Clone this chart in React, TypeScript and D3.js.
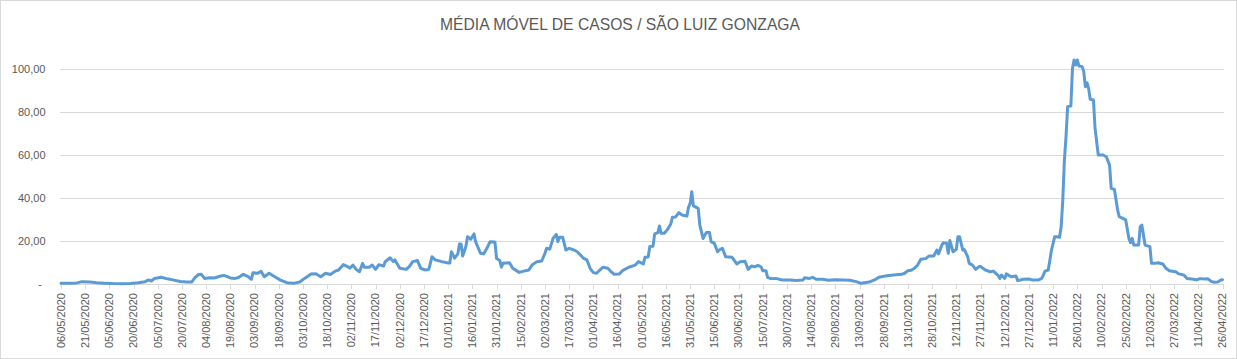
import React from "react";
import * as d3 from "d3";

const TITLE = "MÉDIA MÓVEL DE CASOS / SÃO LUIZ GONZAGA";
const START_DATE = new Date(2020, 4, 6);
const TOTAL_DAYS = 720;
const TICK_STEP_DAYS = 15;
const Y_TICKS = [0, 20, 40, 60, 80, 100];

// days since 06/05/2020
const dayOffsets = [
  0, 5, 10, 13, 18, 22, 27, 32, 38, 43, 48, 52, 54, 56, 58, 62, 66, 70, 74, 78,
  81, 83, 85, 87, 89, 92, 95, 99, 101, 105, 108, 110, 113, 116, 118, 119, 122, 124, 126, 129,
  132, 136, 140, 144, 148, 151, 155, 158, 161, 164, 167, 170, 172, 175, 178, 179, 181, 183, 185, 187,
  188, 191, 193, 195, 197, 200, 201, 204, 206, 207, 210, 214, 216, 218, 221, 223, 226, 228, 230, 232,
  236, 240, 241, 242, 244, 246, 247, 248, 249, 251, 252, 254, 256, 257, 260, 262, 264, 266, 269, 270,
  272, 273, 274, 278, 280, 284, 288, 290, 292, 295, 298, 300, 301, 303, 305, 307, 308, 309, 311, 313,
  315, 318, 320, 322, 324, 326, 328, 330, 332, 334, 336, 339, 341, 343, 346, 348, 352, 356, 358, 361,
  362, 364, 365, 367, 368, 370, 371, 372, 374, 376, 378, 379, 381, 383, 385, 388, 389, 390, 391, 392,
  395, 396, 398, 400, 402, 403, 405, 407, 408, 410, 412, 416, 419, 421, 424, 426, 428, 430, 432, 434,
  435, 437, 438, 440, 443, 447, 452, 456, 460, 461, 464, 466, 468, 472, 476, 480, 485, 489, 493, 496,
  501, 505, 507, 511, 516, 521, 523, 525, 527, 529, 531, 533, 536, 538, 541, 543, 544, 546, 547, 549,
  550, 551, 553, 555, 556, 557, 559, 560, 562, 563, 565, 567, 569, 570, 573, 576, 578, 581, 582, 583,
  585, 586, 589, 592, 593, 595, 596, 600, 602, 606, 608, 610, 612, 614, 616, 617, 619, 620, 621, 622,
  623, 624, 626, 627, 628, 629, 630, 631, 633, 634, 635, 636, 637, 638, 640, 641, 643, 646, 648, 650,
  651, 653, 655, 656, 660, 662, 663, 664, 665, 668, 669, 670, 671, 672, 675, 676, 678, 680, 683, 685,
  687, 691, 693, 696, 698, 702, 704, 706, 709, 711, 713, 715, 717, 719, 720,
];

const movingAverage = [
  0.4, 0.4, 0.5, 1.1, 0.9, 0.6, 0.4, 0.2, 0.1, 0.2, 0.6, 1.0, 1.9, 1.4, 2.6, 3.1, 2.4, 1.8, 1.2, 0.9,
  0.9, 3.0, 4.3, 4.5, 2.6, 2.9, 2.8, 3.7, 4.0, 2.8, 2.6, 3.0, 4.5, 3.4, 2.2, 5.2, 5.0, 5.9, 3.4, 5.0,
  3.6, 1.8, 0.6, 0.3, 0.9, 2.6, 4.6, 4.8, 3.4, 5.0, 4.4, 6.0, 6.5, 9.0, 8.0, 7.4, 8.8, 6.8, 5.7, 9.6,
  7.8, 7.8, 8.8, 6.8, 9.0, 8.4, 10.4, 12.2, 10.4, 11.2, 7.3, 6.8, 8.2, 10.4, 10.9, 7.3, 6.5, 6.8, 12.7, 11.2,
  10.4, 9.8, 9.8, 15.0, 12.0, 14.0, 18.6, 18.6, 13.0, 17.4, 22.0, 20.8, 23.3, 19.7, 14.3, 14.0, 16.6, 19.7, 19.5, 11.9,
  10.9, 7.8, 9.6, 9.9, 7.3, 5.4, 6.2, 6.5, 8.8, 10.4, 10.7, 14.3, 16.6, 16.2, 21.2, 23.1, 19.7, 21.7, 21.7, 15.8,
  16.6, 15.8, 15.0, 13.5, 11.9, 11.2, 7.3, 5.3, 5.0, 6.5, 7.8, 7.3, 5.7, 4.5, 4.6, 6.2, 7.8, 8.8, 10.4, 9.3,
  12.4, 12.6, 17.4, 17.6, 23.3, 23.9, 27.0, 23.6, 23.6, 25.4, 27.9, 31.0, 31.2, 33.2, 32.1, 31.6, 35.7, 37.5, 42.9, 36.3,
  35.2, 27.4, 21.2, 23.9, 23.9, 19.7, 18.9, 15.0, 15.8, 16.6, 12.7, 12.4, 9.3, 10.4, 10.6, 6.8, 8.4, 8.0, 8.7, 7.9,
  6.2, 6.2, 3.1, 2.5, 2.6, 1.9, 1.9, 1.6, 1.9, 2.9, 2.6, 3.1, 2.2, 2.2, 1.7, 2.0, 1.9, 1.7, 1.1, 0.3,
  0.9, 2.2, 3.1, 3.7, 4.2, 4.5, 5.0, 6.2, 6.4, 7.3, 8.8, 11.5, 11.8, 13.0, 13.0, 15.8, 14.0, 18.1, 19.2, 19.0,
  14.3, 20.2, 15.0, 16.1, 22.0, 22.0, 15.8, 16.0, 12.7, 9.6, 8.8, 6.8, 8.1, 8.1, 6.5, 5.7, 6.0, 3.9, 2.6, 4.2,
  2.6, 4.7, 3.4, 3.7, 1.6, 1.9, 2.2, 2.3, 1.9, 1.9, 2.6, 6.0, 6.5, 15.8, 22.0, 22.0, 21.7, 26.7, 39.0, 57.7,
  68.5, 82.5, 82.8, 100.3, 104.2, 101.9, 104.2, 101.4, 101.1, 98.8, 91.8, 93.6, 91.0, 85.9, 85.6, 72.4, 60.0, 60.0, 59.2, 55.3,
  44.5, 44.0, 34.4, 31.3, 29.8, 21.2, 19.2, 21.2, 18.1, 18.1, 26.7, 27.4, 22.8, 18.1, 17.4, 9.6, 9.6, 9.9, 9.3, 7.3,
  6.2, 5.7, 4.7, 4.2, 2.6, 2.2, 1.9, 2.5, 2.3, 2.4, 1.2, 0.8, 0.9, 1.9, 2.0,
];

const W = 1237;
const H = 359;

export default function App() {
  const x = d3.scaleLinear().domain([0, TOTAL_DAYS]).range([61, 1222.5]);
  const y = d3.scaleLinear().domain([0, 100]).range([284, 69]);
  const fmt = d3.timeFormat("%d/%m/%Y");
  const xTicks = d3.range(0, TOTAL_DAYS + 1, TICK_STEP_DAYS);
  const points: [number, number][] = dayOffsets.map((d, i) => [d, movingAverage[i]]);
  const line = d3
    .line<[number, number]>()
    .x((p) => x(p[0]))
    .y((p) => y(p[1]));
  const yFmt = (v: number) => (v === 0 ? "-" : d3.format(".2f")(v).replace(".", ","));
  const font = "'Liberation Sans', Arial, sans-serif";

  return (
    <div style={{ position: "absolute", left: 0, top: 0 }}>
      <svg width={W} height={H} style={{ display: "block", background: "#fff" }}>
        <rect x={0.5} y={0.5} width={W - 1} height={H - 1} fill="#fff" stroke="#d9d9d9" />
        <text
          x={620}
          y={29.5}
          textAnchor="middle"
          fontFamily={font}
          fontSize={17}
          fill="#595959"
          textLength={360}
          lengthAdjust="spacingAndGlyphs"
        >
          {TITLE}
        </text>
        {Y_TICKS.map((t) => (
          <g key={t}>
            <line x1={60} x2={1224} y1={Math.round(y(t)) + 0.5} y2={Math.round(y(t)) + 0.5} stroke="#d9d9d9" strokeWidth={1} />
            <text
              x={t === 0 ? 42 : 45.5}
              y={y(t)}
              dy="0.35em"
              textAnchor="end"
              fontFamily={font}
              fontSize={11}
              fill="#595959"
            >
              {yFmt(t)}
            </text>
          </g>
        ))}
        {xTicks.map((d) => (
          <g key={d}>
            <line
              x1={Math.round(x(d)) + 0.5}
              x2={Math.round(x(d)) + 0.5}
              y1={284}
              y2={289}
              stroke="#d9d9d9"
            />
            <text
              transform={`translate(${x(d)},293) rotate(-90)`}
              textAnchor="end"
              dy="0.35em"
              fontFamily={font}
              fontSize={11}
              fill="#595959"
            >
              {fmt(d3.timeDay.offset(START_DATE, d))}
            </text>
          </g>
        ))}
        <path
          d={line(points) || ""}
          fill="none"
          stroke="#5b9bd5"
          strokeWidth={3}
          strokeLinejoin="round"
          strokeLinecap="round"
        />
      </svg>
    </div>
  );
}
